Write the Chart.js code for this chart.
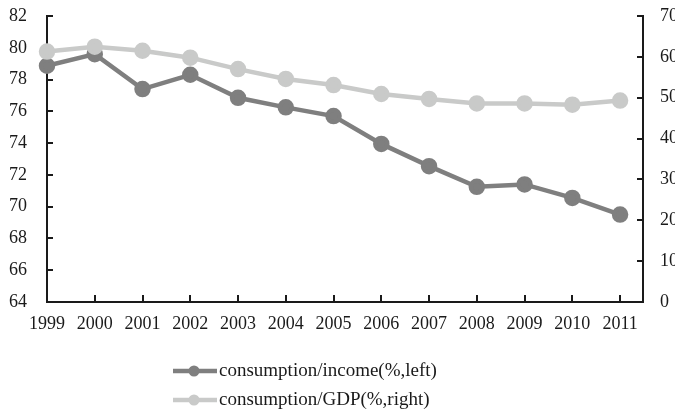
<!DOCTYPE html>
<html>
<head>
<meta charset="utf-8">
<script src="https://cdn.jsdelivr.net/npm/chart.js@4"></script>
<style>
  html, body { margin: 0; padding: 0; background: #fff; }
  #wrap { width: 675px; height: 409px; }
</style>
</head>
<body>
<div id="wrap"><canvas id="consChart"></canvas></div>
<script>
const years = [1999, 2000, 2001, 2002, 2003, 2004, 2005, 2006, 2007, 2008, 2009, 2010, 2011];
const consIncome = [78.87, 79.6, 77.4, 78.3, 76.85, 76.25, 75.7, 73.95, 72.55, 71.25, 71.4, 70.55, 69.5];
const consGDP = [61.3, 62.5, 61.5, 59.8, 57.0, 54.6, 53.1, 50.9, 49.7, 48.6, 48.6, 48.3, 49.3];
const leftTicks = { min: 64, max: 82, step: 2 };
const rightTicks = { min: 0, max: 70, step: 10 };

const darkGrey = '#7f7f7f';
const lightGrey = '#c9cac9';
const axisColor = '#1a1a1a';
const font = { family: 'Liberation Serif', size: 18 };
const legendFont = '19px "Liberation Serif"';

// legend in two rows under the chart, drawn by hand
const rowLegend = {
  id: 'rowLegend',
  afterDraw(chart) {
    const ctx = chart.ctx;
    ctx.save();
    chart.data.datasets.forEach((ds, i) => {
      const y = 371 + i * 29;
      ctx.strokeStyle = ds.borderColor;
      ctx.lineWidth = 4.5;
      ctx.beginPath();
      ctx.moveTo(173, y);
      ctx.lineTo(217, y);
      ctx.stroke();
      ctx.fillStyle = ds.backgroundColor;
      ctx.beginPath();
      ctx.arc(194, y, 5.5, 0, Math.PI * 2);
      ctx.fill();
      ctx.fillStyle = axisColor;
      ctx.font = legendFont;
      ctx.textBaseline = 'middle';
      ctx.textAlign = 'left';
      ctx.fillText(ds.label, 219, y);
    });
    ctx.restore();
  }
};

// fixed axis sizes so the plot box sits where the original one does
const fixWidth = (w) => (s) => { s.width = w; s.paddingTop = 0; s.paddingBottom = 0; };

new Chart(document.getElementById('consChart'), {
  type: 'line',
  data: {
    labels: years,
    datasets: [{
      label: 'consumption/income(%,left)',
      data: consIncome,
      yAxisID: 'yL',
      borderColor: darkGrey,
      backgroundColor: darkGrey,
      borderWidth: 4.5,
      pointRadius: 6,
      tension: 0,
      clip: false,
      order: 2
    }, {
      label: 'consumption/GDP(%,right)',
      data: consGDP,
      yAxisID: 'yR',
      borderColor: lightGrey,
      backgroundColor: lightGrey,
      borderWidth: 4.5,
      pointRadius: 6,
      tension: 0,
      clip: false,
      order: 1
    }]
  },
  options: {
    responsive: true,
    maintainAspectRatio: false,
    animation: false,
    layout: { padding: { top: 16, left: 0, right: 0, bottom: 0 } },
    plugins: { legend: { display: false }, tooltip: { enabled: false } },
    scales: {
      x: {
        type: 'linear',
        min: 1999,
        max: 2011.48,
        afterFit: (s) => { s.height = 107; },
        grid: { drawOnChartArea: false, tickLength: -7, color: axisColor, lineWidth: 2 },
        border: { color: axisColor, width: 2 },
        ticks: {
          stepSize: 1,
          includeBounds: false,
          padding: 18,
          color: axisColor,
          font: font,
          maxRotation: 0,
          autoSkip: false,
          callback: (v) => String(v)
        }
      },
      yL: {
        position: 'left',
        min: leftTicks.min,
        max: leftTicks.max,
        afterFit: fixWidth(47),
        grid: { drawOnChartArea: false, tickLength: -6, color: axisColor, lineWidth: 2 },
        border: { color: axisColor, width: 2 },
        ticks: { stepSize: leftTicks.step, padding: 26, color: axisColor, font: font }
      },
      yR: {
        position: 'right',
        min: rightTicks.min,
        max: rightTicks.max,
        afterFit: fixWidth(32),
        grid: { drawOnChartArea: false, tickLength: -6, color: axisColor, lineWidth: 2 },
        border: { color: axisColor, width: 2 },
        ticks: { stepSize: rightTicks.step, padding: 23, color: axisColor, font: font }
      }
    }
  },
  plugins: [rowLegend]
});
</script>
</body>
</html>
